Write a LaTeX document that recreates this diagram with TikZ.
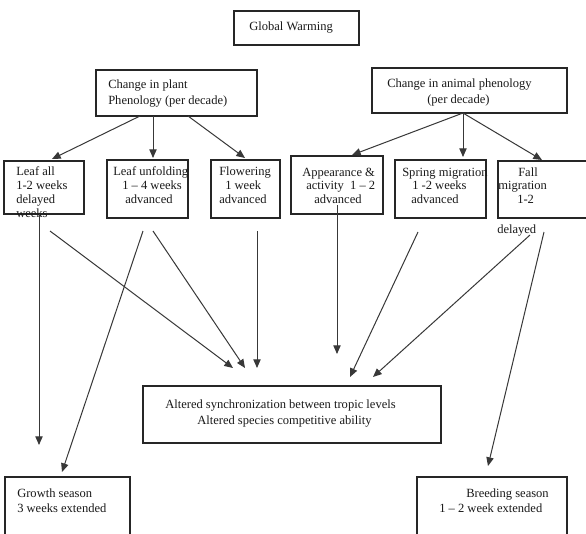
\documentclass[tikz,border=0pt]{standalone}
\usepackage{fontspec}
\setmainfont{Liberation Serif}
\usetikzlibrary{arrows.meta,fit}
\begin{document}
\begin{tikzpicture}[x=0.75pt,y=-0.75pt,
  boxstyle/.style={draw=black!85, line width=0.8pt, inner sep=0pt},
  lbl/.style={inner sep=0pt, anchor=base west, font=\fontsize{9.4}{12}\selectfont, text=black!90},
  arr/.style={draw=black!78, line width=0.75pt, -{Triangle[length=6.5pt,width=5.5pt]}}]
\useasboundingbox (0,0) rectangle (586,533);
\clip (0,0) rectangle (586,533);
\fill[white] (0,0) rectangle (586,533);

% box corners
\coordinate (gwA) at (234,11);   \coordinate (gwB) at (359,45);
\coordinate (plA) at (96,70);    \coordinate (plB) at (257,116);
\coordinate (anA) at (372,68);   \coordinate (anB) at (567,113);
\coordinate (laA) at (4,161);    \coordinate (laB) at (84,214);
\coordinate (luA) at (107,160);  \coordinate (luB) at (188,218);
\coordinate (flA) at (211,160);  \coordinate (flB) at (280,218);
\coordinate (apA) at (291,156);  \coordinate (apB) at (383,214);
\coordinate (spA) at (395,160);  \coordinate (spB) at (486,218);
\coordinate (faA) at (498,161);  \coordinate (faB) at (600,218);
\coordinate (ceA) at (143,386);  \coordinate (ceB) at (441,443);
\coordinate (grA) at (5,477);    \coordinate (grB) at (130,545);
\coordinate (brA) at (417,477);  \coordinate (brB) at (567,545);

\node[boxstyle, fit=(gwA)(gwB)] (gw) {};
\node[boxstyle, fit=(plA)(plB)] (plant) {};
\node[boxstyle, fit=(anA)(anB)] (animal) {};
\node[boxstyle, fit=(laA)(laB)] (leafall) {};
\node[boxstyle, fit=(luA)(luB)] (leafunf) {};
\node[boxstyle, fit=(flA)(flB)] (flower) {};
\node[boxstyle, fit=(apA)(apB)] (appear) {};
\node[boxstyle, fit=(spA)(spB)] (spring) {};
\node[boxstyle, fit=(faA)(faB)] (fall) {};
\node[boxstyle, fit=(ceA)(ceB)] (center) {};
\node[boxstyle, fit=(grA)(grB)] (growth) {};
\node[boxstyle, fit=(brA)(brB)] (breed) {};

% texts
\node[lbl] (t1) at (249,30) {Global Warming};
\node[lbl] (t2) at (108,88) {Change in plant};
\node[lbl] (t3) at (108,104) {Phenology (per decade)};
\node[lbl] (t4) at (387,87) {Change in animal phenology};
\node[lbl] (t5) at (427,103) {(per decade)};
\node[lbl] (t6) at (16,175) {Leaf all};
\node[lbl] (t7) at (16,189) {1-2 weeks};
\node[lbl] (t8) at (16,203) {delayed};
\node[lbl] (t9) at (16,217) {weeks};
\node[lbl] (t10) at (113,175) {Leaf unfolding};
\node[lbl] (t11) at (122,189) {1 – 4 weeks};
\node[lbl] (t12) at (125,203) {advanced};
\node[lbl] (t13) at (219,175) {Flowering};
\node[lbl] (t14) at (225,189) {1 week};
\node[lbl] (t15) at (219,203) {advanced};
\node[lbl] (t16) at (302,176) {Appearance \&};
\node[lbl] (t17) at (306,189) {activity\ \ 1 – 2};
\node[lbl] (t18) at (314,203) {advanced};
\node[lbl] (t19) at (402,176) {Spring migration};
\node[lbl] (t20) at (412,189) {1 -2 weeks};
\node[lbl] (t21) at (411,203) {advanced};
\node[lbl] (t22) at (518,176) {Fall};
\node[lbl] (t23) at (498,189) {migration};
\node[lbl] (t24) at (517,203) {1-2};
\node[lbl] (t25) at (497,233) {delayed};
\node[lbl] (t26) at (165,408) {Altered synchronization between tropic levels};
\node[lbl] (t27) at (197,424) {Altered species competitive ability};
\node[lbl] (t28) at (17,497) {Growth season};
\node[lbl] (t29) at (17,512) {3 weeks extended};
\node[lbl] (t30) at (466,497) {Breeding season};
\node[lbl] (t31) at (439,512) {1 – 2 week extended};

% connector end points
\coordinate (c1s) at (140,116); \coordinate (c1e) at (52,159);
\coordinate (c2s) at (153,116); \coordinate (c2e) at (153,158);
\coordinate (c3s) at (188,116); \coordinate (c3e) at (245,158);
\coordinate (c4s) at (463,113); \coordinate (c4e) at (352,155);
\coordinate (c5e) at (463,157);
\coordinate (c6e) at (542,160);
\coordinate (c7s) at (39,214);  \coordinate (c7e) at (39,445);
\coordinate (c8s) at (50,231);  \coordinate (c8e) at (233,368);
\coordinate (c9s) at (143,231); \coordinate (c9e) at (62,472);
\coordinate (c10s) at (153,231); \coordinate (c10e) at (245,368);
\coordinate (c11s) at (257,231); \coordinate (c11e) at (257,368);
\coordinate (c12s) at (337,205); \coordinate (c12e) at (337,354);
\coordinate (c13s) at (418,232); \coordinate (c13e) at (350,377);
\coordinate (c14s) at (530,235); \coordinate (c14e) at (373,377);
\coordinate (c15s) at (544,232); \coordinate (c15e) at (488,466);

\draw[arr] (c1s) -- (c1e);
\draw[arr] (c2s) -- (c2e);
\draw[arr] (c3s) -- (c3e);
\draw[arr] (c4s) -- (c4e);
\draw[arr] (c4s) -- (c5e);
\draw[arr] (c4s) -- (c6e);
\draw[arr] (c7s) -- (c7e);
\draw[arr] (c8s) -- (c8e);
\draw[arr] (c9s) -- (c9e);
\draw[arr] (c10s) -- (c10e);
\draw[arr] (c11s) -- (c11e);
\draw[arr] (c12s) -- (c12e);
\draw[arr] (c13s) -- (c13e);
\draw[arr] (c14s) -- (c14e);
\draw[arr] (c15s) -- (c15e);
\end{tikzpicture}
\end{document}
